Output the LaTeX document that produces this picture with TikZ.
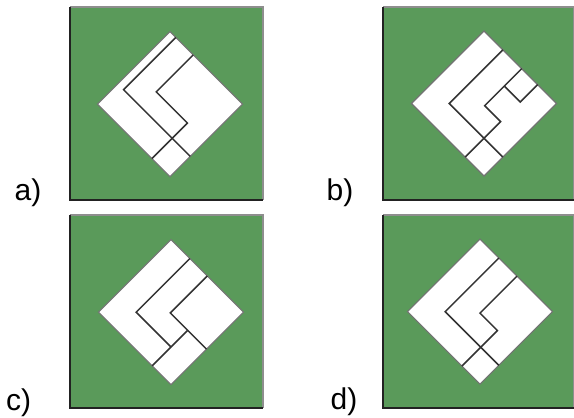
\documentclass[tikz,border=0pt]{standalone}
\usepackage{fontspec}
\setmainfont{Liberation Sans}
\definecolor{panelgreen}{HTML}{5A9A5A}
\definecolor{rimlight}{HTML}{8E8E8E}
\definecolor{rimdark}{HTML}{222222}
\tikzset{
  panel/.style={fill=panelgreen, minimum width=193pt, minimum height=193pt, inner sep=0pt, outer sep=0pt},
  rim/.style={line width=2.5pt},
  tile/.style={fill=white, draw=black!55, line width=1.1pt},
  cut/.style={draw=black!80, line width=1.5pt},
  tag/.style={font=\fontsize{30}{36}\selectfont, anchor=base, inner sep=0pt},
}
\begin{document}
\begin{tikzpicture}[x=1pt,y=1pt]
    \useasboundingbox (0,0) rectangle (574,418);
    % the four green panels
    \node[panel] at (166.5,314.5) (pa) {};
    \node[panel,minimum width=191pt] at (478.5,314.5) (pb) {};
    \node[panel] at (166.5,106.5) (pc) {};
    \node[panel,minimum width=191pt] at (478.5,106.5) (pd) {};
    \foreach \p in {pa,pb,pc,pd} {
        \draw[rim, rimlight] (\p.south east) -- (\p.north east) -- (\p.north west);
        \draw[rim, rimdark] (\p.north west) -- (\p.south west) -- (\p.south east);
    }
    % labels
    \node[tag] at (28,217) (la) {a)};
    \node[tag] at (340,217) (lb) {b)};
    \node[tag] at (18.7,7.5) (lc) {c)};
    \node[tag] at (344,8) (ld) {d)};
    % a)
    \begin{scope}[shift={(97.5,313.8)}, x={(72.5pt,72.5pt)}, y={(72.5pt,-72.5pt)}]
        \draw[tile] (0,0) -- (1,0) -- (1,1) -- (0,1) -- cycle;
        \draw[cut] (1,0.08) -- (0.28,0.08) -- (0.28,1);
        \draw[cut] (1,0.32) -- (0.49,0.32) -- (0.49,0.75) -- (0,0.75);
    \end{scope}
    % b)
    \begin{scope}[shift={(411.5,314.5)}, x={(72.5pt,72.5pt)}, y={(72.5pt,-72.5pt)}]
        \draw[tile] (0,0) -- (1,0) -- (1,1) -- (0,1) -- cycle;
        \draw[cut] (1,0.26) -- (0.26,0.26) -- (0.26,1);
        \draw[cut] (1,0.52) -- (0.49,0.52) -- (0.49,0.74) -- (0,0.74);
        \draw[cut] (0.76,0.52) -- (0.76,0.74) -- (1,0.74);
    \end{scope}
    % c)
    \begin{scope}[shift={(98.5,105.8)}, x={(72.5pt,72.5pt)}, y={(72.5pt,-72.5pt)}]
        \draw[tile] (0,0) -- (1,0) -- (1,1) -- (0,1) -- cycle;
        \draw[cut] (1,0.26) -- (0.26,0.26) -- (0.26,0.74);
        \draw[cut] (1,0.5) -- (0.49,0.5) -- (0.49,1);
        \draw[cut] (0,0.74) -- (0.49,0.74);
    \end{scope}
    % d)
    \begin{scope}[shift={(407.5,106.3)}, x={(72.5pt,72.5pt)}, y={(72.5pt,-72.5pt)}]
        \draw[tile] (0,0) -- (1,0) -- (1,1) -- (0,1) -- cycle;
        \draw[cut] (1,0.26) -- (0.26,0.26) -- (0.26,1);
        \draw[cut] (1,0.51) -- (0.49,0.51) -- (0.49,0.75) -- (0,0.75);
    \end{scope}
\end{tikzpicture}
\end{document}
